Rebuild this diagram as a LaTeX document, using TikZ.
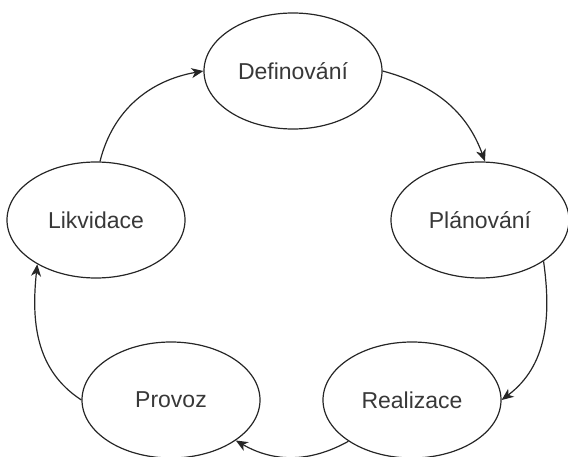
\documentclass[tikz,border=0pt]{standalone}
\usepackage{fontspec}
\setmainfont{Liberation Sans}
\usetikzlibrary{shapes.geometric,arrows.meta}
\begin{document}
\begin{tikzpicture}[x=1pt,y=1pt,
  phase/.style={ellipse,draw=black!85,line width=1.2pt,minimum width=178pt,
    minimum height=116pt,inner sep=0pt,text=black!78,
    font=\fontsize{23}{27}\selectfont},
  flow/.style={draw=black!85,line width=1.2pt,
    -{Stealth[length=12pt,width=10pt,inset=3.5pt]}}]
\clip (0,0) rectangle (568,456);

% project life-cycle phases
\node[phase] (def)  at (293,385) {Definování};
\node[phase] (plan) at (480,236) {Plánování};
\node[phase] (real) at (412,56)  {Realizace};
\node[phase] (prov) at (171,56)  {Provoz};
\node[phase] (likv) at (96,236)  {Likvidace};

% cycle connectors
\draw[flow] (def.east)  to[out=-15,in=110] ([xshift=5pt]plan.north);
\draw[flow] (plan.-33)  to[out=-82,in=37]  (real.east);
\draw[flow] (real.213)  to[out=209,in=-30] (prov.-32);
\draw[flow] (prov.west) to[out=147,in=-96] (likv.217);
\draw[flow] ([xshift=4pt]likv.north) to[out=76,in=190] (def.west);
\end{tikzpicture}
\end{document}
